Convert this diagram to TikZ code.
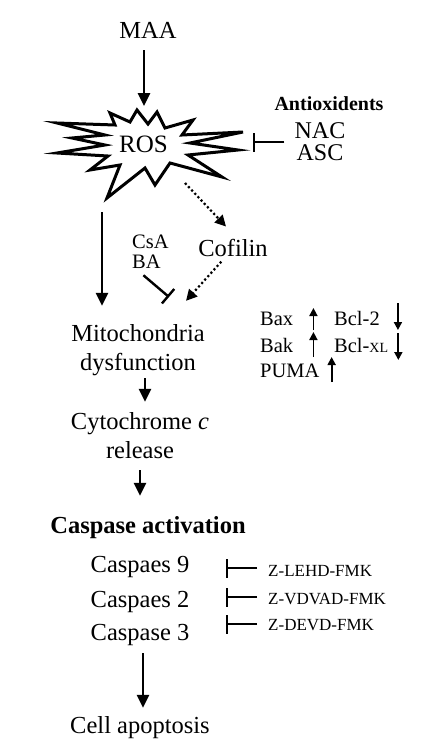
\documentclass[tikz,border=0pt]{standalone}
\usepackage{fontspec}
\setmainfont{Liberation Serif}
\usetikzlibrary{arrows.meta}

\begin{document}
\begin{tikzpicture}[
            x=1pt, y=1pt,
            txt/.style={inner sep=0pt, font=\fontsize{24.5}{29}\selectfont, align=center},
            sml/.style={inner sep=0pt, font=\fontsize{20.5}{20}\selectfont, align=left},
            zlbl/.style={inner sep=0pt, font=\fontsize{17}{17}\selectfont},
            hdr/.style={inner sep=0pt, font=\bfseries\fontsize{24.5}{28}\selectfont},
            arr/.style={line width=2.6pt, -{Triangle[length=13pt,width=12pt]}},
            dotarr/.style={line width=2.2pt, dash pattern=on 2.2pt off 2.4pt, -{Triangle[length=11pt,width=11pt]}},
            inh/.style={line width=2.4pt, -{Bar[width=19pt]}},
            sarr/.style={line width=1.8pt, -{Triangle[length=8pt,width=8pt]}},
            burst/.style={line width=3pt, draw=black, fill=white, line join=miter},
        ]
            \useasboundingbox[fill=white] (0,0) rectangle (438,-750);

            % the ROS burst
            \draw[burst] (157,-112) -- (165,-128) -- (193,-120) -- (182,-135) -- (243,-132) -- (190,-143)
                -- (238,-150) -- (188,-155) -- (222,-177) -- (170,-163) -- (155,-185) -- (145,-168)
                -- (107,-198) -- (120,-165) -- (90,-170) -- (108,-156) -- (57,-153) -- (105,-145)
                -- (72,-138) -- (105,-135) -- (57,-123) -- (115,-125) -- (110,-113) -- (130,-122)
                -- (137,-110) -- (148,-124) -- cycle;
            \node[txt, anchor=base, font=\fontsize{25}{29}\selectfont] (ros) at (143.5,-152) {ROS};

            % main column (base = baseline of the last line)
            \node[txt, anchor=base] (maa) at (148,-38) {MAA};
            \node[txt, anchor=base] (mito) at (138,-370) {Mitochondria\\dysfunction};
            \node[txt, anchor=base] (cyto) at (140,-458) {Cytochrome \textit{c}\\release};
            \node[hdr, anchor=base] (casact) at (148,-533) {Caspase activation};
            \node[txt, anchor=base] (cas9) at (140,-572) {Caspaes 9};
            \node[txt, anchor=base] (cas2) at (140,-607) {Caspaes 2};
            \node[txt, anchor=base] (cas3) at (140,-640) {Caspase 3};
            \node[txt, anchor=base] (cellapo) at (140,-733) {Cell apoptosis};

            % side labels
            \node[hdr, anchor=base, font=\bfseries\fontsize{20}{20}\selectfont] (antiox) at (329,-110) {Antioxidents};
            \node[txt, anchor=base, font=\fontsize{24}{21.5}\selectfont] (nacasc) at (320,-160) {NAC\\ASC};
            \node[sml, anchor=base west] (csaba) at (132,-268) {CsA\\BA};
            \node[txt, anchor=base] (cofilin) at (233,-256) {Cofilin};
            \node[sml, anchor=base west] (bax) at (260,-325) {Bax};
            \node[sml, anchor=base west] (bak) at (260,-352) {Bak};
            \node[sml, anchor=base west] (puma) at (260,-377) {PUMA};
            \node[sml, anchor=base west] (bcltwo) at (334,-325) {Bcl-2};
            \node[sml, anchor=base west] (bclxl) at (334,-352) {Bcl-{\fontsize{14}{14}\selectfont XL}};
            \node[zlbl, anchor=base west] (zlehd) at (268,-576) {Z-LEHD-FMK};
            \node[zlbl, anchor=base west] (zvdvad) at (268,-604) {Z-VDVAD-FMK};
            \node[zlbl, anchor=base west] (zdevd) at (268,-630) {Z-DEVD-FMK};

            % end points on the burst and the blocks
            \coordinate (rostop) at (144,-106);
            \coordinate (rosright) at (253,-142);
            \coordinate (rosleft) at (102,-212);
            \coordinate (rosdot) at (185,-183);
            \coordinate (bablock) at (169,-297);
            \coordinate (barnine) at (226,-568);
            \coordinate (bartwo) at (226,-597);
            \coordinate (barthree) at (226,-624);

            % connectors
            \draw[arr, shorten <=12pt] ([xshift=-4pt]maa.south) -- (rostop);
            \draw[inh, shorten <=10pt] (rosright -| nacasc.west) -- (rosright);
            \draw[arr, shorten >=18pt] (rosleft) -- (rosleft |- mito.north);
            \draw[dotarr] (rosdot) -- ([shift={(-7pt,12pt)}]cofilin.north);
            \draw[dotarr, shorten <=7pt] ([xshift=-7pt]cofilin.south) -- ([shift={(48pt,23pt)}]mito.north);
            \draw[inh] ([shift={(-7pt,-7pt)}]csaba.south) -- (bablock);
            \draw[arr, shorten <=3pt, shorten >=10pt] ([xshift=7pt]mito.south) -- ([xshift=5pt]cyto.north);
            \draw[arr, shorten <=12pt, shorten >=20pt] (cyto.south) -- ([xshift=-8pt]casact.north);
            \draw[arr, shorten <=8pt, shorten >=8pt] ([xshift=3pt]cas3.south) -- ([xshift=3pt]cellapo.north);
            \draw[inh, shorten <=11pt] (barnine -| zlehd.west) -- (barnine);
            \draw[inh, shorten <=11pt] (bartwo -| zvdvad.west) -- (bartwo);
            \draw[inh, shorten <=11pt] (barthree -| zdevd.west) -- (barthree);

            % up and down marks
            \draw[sarr] ([shift={(20pt,-5pt)}]bax.base east) -- ++(0,22);
            \draw[sarr] ([shift={(20pt,-5pt)}]bak.base east) -- ++(0,25);
            \draw[sarr] ([shift={(12pt,-5pt)}]puma.base east) -- ++(0,25);
            \draw[sarr] ([shift={(18pt,22pt)}]bcltwo.base east) -- ++(0,-27);
            \draw[sarr] ([shift={(10pt,19pt)}]bclxl.base east) -- ++(0,-27);
        \end{tikzpicture}
\end{document}
